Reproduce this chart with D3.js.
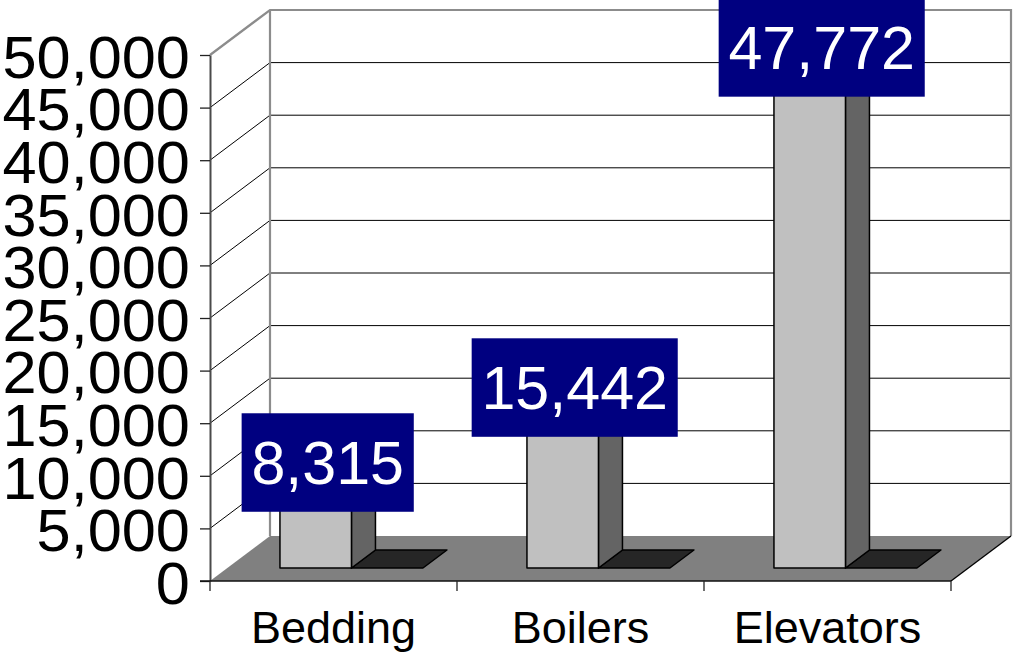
<!DOCTYPE html>
<html>
<head>
<meta charset="utf-8">
<script src="https://cdn.jsdelivr.net/npm/d3@7"></script>
<style>
  html, body { margin: 0; padding: 0; background: #fff; }
  svg { display: block; }
  text { font-family: "Liberation Sans", Arial, Helvetica, sans-serif; }
</style>
</head>
<body>
<svg id="chart" width="1016" height="654"></svg>
<script>
// Data
const categories = ["Bedding", "Boilers", "Elevators"];
const values = [8315, 15442, 47772];
const yTicks = [0, 5000, 10000, 15000, 20000, 25000, 30000, 35000, 40000, 45000, 50000];

// Geometry of the oblique 3D box
const plot = { left: 210, right: 951, base: 581, top: 55 };
const depth = { dx: 60, dy: 45 };          // screen offset from front plane to back wall
const barZ = [0.289, 0.689];               // bar front / back depth (0 = front, 1 = back)
const barStart = 0.213, barSpan = 0.2895;  // bar position within its category band

const svg = d3.select("#chart");

const x = d3.scaleBand().domain(categories).range([plot.left, plot.right]);
const y = d3.scaleLinear().domain([0, 50000]).range([plot.base, plot.top]);
const fmt = d3.format(",");

// project (front-plane x, value, depth) to screen
const P = (px, v, z) => [px + z * depth.dx, y(v) - z * depth.dy];
const poly = pts => "M" + pts.map(p => p.join(",")).join("L") + "Z";
const line = pts => "M" + pts.map(p => p.join(",")).join("L");

const yMax = y.domain()[1];

// Walls: white fill
svg.append("path")
  .attr("d", poly([P(plot.left, 0, 1), P(plot.left, yMax, 1), P(plot.right, yMax, 1), P(plot.right, 0, 1)]))
  .attr("fill", "#fff");

// Gridlines on back wall and left side wall
const gridG = svg.append("g");
yTicks.filter(t => t > 0 && t < yMax).forEach(t => {
  gridG.append("path")
    .attr("d", line([P(plot.left, t, 0), P(plot.left, t, 1), P(plot.right, t, 1)]))
    .attr("fill", "none").attr("stroke", "#000").attr("stroke-width", 1);
});

// Wall outlines
svg.append("path")
  .attr("d", line([P(plot.left, yMax, 0), P(plot.left, yMax, 1), P(plot.right, yMax, 1), P(plot.right, 0, 1)]))
  .attr("fill", "none").attr("stroke", "#8c8c8c").attr("stroke-width", 2.2);
svg.append("path")
  .attr("d", line([P(plot.left, 0, 1), P(plot.left, yMax, 1)]))
  .attr("fill", "none").attr("stroke", "#8c8c8c").attr("stroke-width", 2.2);

// Floor
svg.append("path")
  .attr("d", poly([P(plot.left, 0, 0), P(plot.right, 0, 0), P(plot.right, 0, 1), P(plot.left, 0, 1)]))
  .attr("fill", "#808080");
svg.append("path")
  .attr("d", line([P(plot.right, 0, 0), P(plot.right, 0, 1)]))
  .attr("fill", "none").attr("stroke", "#000").attr("stroke-width", 1.3);

// Bars
const bw = x.bandwidth();
const barG = svg.append("g");
categories.forEach((c, i) => {
  const v = values[i];
  const x0 = x(c) + bw * barStart;
  const x1 = x0 + bw * barSpan;
  const w = x1 - x0;
  const [z0, z1] = barZ;
  const g = barG.append("g");
  // shadow on the floor
  g.append("path")
    .attr("d", poly([P(x1, 0, z0), P(x1 + w, 0, z0), P(x1 + w, 0, z1), P(x1, 0, z1)]))
    .attr("fill", "#262626").attr("stroke", "#000").attr("stroke-width", 1.5).attr("stroke-linejoin", "round");
  // side face
  g.append("path")
    .attr("d", poly([P(x1, 0, z0), P(x1, 0, z1), P(x1, v, z1), P(x1, v, z0)]))
    .attr("fill", "#646464").attr("stroke", "#000").attr("stroke-width", 1.5).attr("stroke-linejoin", "round");
  // top face
  g.append("path")
    .attr("d", poly([P(x0, v, z0), P(x1, v, z0), P(x1, v, z1), P(x0, v, z1)]))
    .attr("fill", "#e0e0e0").attr("stroke", "#000").attr("stroke-width", 1.5).attr("stroke-linejoin", "round");
  // front face
  g.append("path")
    .attr("d", poly([P(x0, 0, z0), P(x1, 0, z0), P(x1, v, z0), P(x0, v, z0)]))
    .attr("fill", "#c0c0c0").attr("stroke", "#000").attr("stroke-width", 1.5).attr("stroke-linejoin", "round");
});

// Y axis (front plane)
const yAxis = d3.axisLeft(y).tickValues(yTicks).tickFormat(fmt).tickSize(10).tickSizeOuter(0).tickPadding(9.5);
const yg = svg.append("g").attr("transform", `translate(${plot.left},0)`).call(yAxis);
yg.select(".domain").attr("stroke", "#4a4a4a").attr("stroke-width", 2);
yg.selectAll(".tick line").attr("stroke", "#222").attr("stroke-width", 1.3);
yg.selectAll(".tick text")
  .attr("fill", "#000").attr("font-size", 59.5).attr("dy", "0.375em")
  .attr("transform", "scale(1.03,1)")
  .style("font-family", '"Liberation Sans", Arial, sans-serif');

// X axis (front edge of floor)
svg.append("line")
  .attr("x1", plot.left - 10).attr("x2", plot.right)
  .attr("y1", y(0)).attr("y2", y(0))
  .attr("stroke", "#111").attr("stroke-width", 1.5);
const bounds = categories.map(c => x(c)).concat([plot.right]);
svg.append("g").selectAll("line").data(bounds).join("line")
  .attr("x1", d => d).attr("x2", d => d)
  .attr("y1", y(0)).attr("y2", y(0) + 10)
  .attr("stroke", "#222").attr("stroke-width", 1.3);
svg.append("g").selectAll("text").data(categories).join("text")
  .attr("x", d => x(d) + bw / 2)
  .attr("y", 643)
  .attr("text-anchor", "middle")
  .attr("font-size", 45)
  .attr("fill", "#000")
  .text(d => d);

// Value labels
const labelG = svg.append("g");
categories.forEach((c, i) => {
  const v = values[i];
  const x0 = x(c) + bw * barStart;
  const x1 = x0 + bw * barSpan;
  const [z0, z1] = barZ;
  const cx = (P(x0, v, z0)[0] + P(x1, v, z1)[0]) / 2;
  const cy = P(x0, v, z1)[1];
  const g = labelG.append("g");
  const rect = g.append("rect").attr("fill", "#000080");
  const t = g.append("text")
    .attr("x", cx).attr("y", cy)
    .attr("dy", "0.355em")
    .attr("text-anchor", "middle")
    .attr("font-size", 61)
    .attr("fill", "#fff")
    .text(fmt(v));
  const tw = t.node().getComputedTextLength();
  const bwid = tw + 19.5, bh = 98.5;
  rect.attr("x", cx - bwid / 2).attr("y", cy - bh / 2).attr("width", bwid).attr("height", bh);
});
</script>
</body>
</html>
